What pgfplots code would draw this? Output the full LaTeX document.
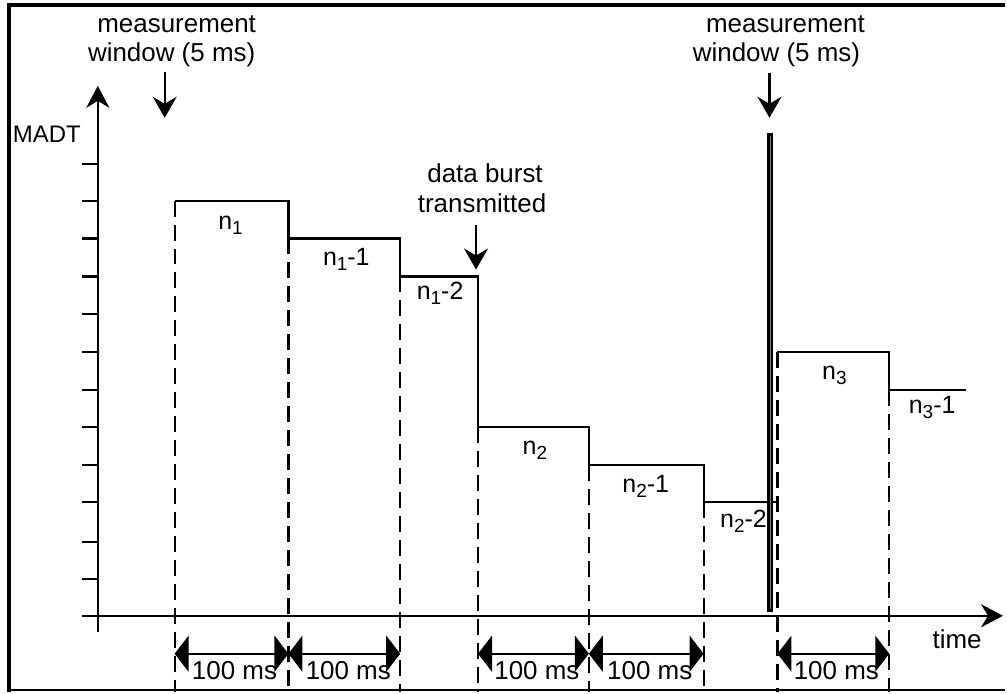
\documentclass[border=0pt]{standalone}
\usepackage{pgfplots}
\pgfplotsset{compat=1.18}
\usepackage{fontspec}
\setmainfont{Liberation Sans}
\usetikzlibrary{arrows.meta}

% step label: n with a lowered index, then a suffix
\newcommand{\lbl}[2]{n\raisebox{-5pt}{\fontsize{19}{19}\selectfont #1}#2}
\tikzset{txt/.style={anchor=base, font=\fontsize{26}{31}\selectfont},
  stp/.style={anchor=base, font=\fontsize{25}{30}\selectfont}}

\begin{document}
\begin{tikzpicture}
\begin{axis}[x=1pt, y=1pt, y dir=reverse,
  xmin=0, xmax=1007, ymin=0, ymax=693,
  hide axis, clip=false]

% keeps the page at the full size
\addplot[draw=none] coordinates {(0,0) (1007,693)};

% frame
\addplot[black, line width=4pt] coordinates {(9.5,693) (9.5,5) (1007,5)};
\addplot[black, line width=2pt] coordinates {(8,691) (1007,691)};

% axes
\addplot[black, line width=2.5pt, -{Stealth[length=22pt,width=23pt,inset=7pt]}]
  coordinates {(98,633) (98,86)};
\addplot[black, line width=2.5pt, -{Stealth[length=22pt,width=23pt,inset=7pt]}]
  coordinates {(82,617) (1005,617)};

% ticks on the MADT axis
\addplot[black, line width=2.2pt, unbounded coords=jump] coordinates {
  (82,164) (98,164) (nan,nan) (82,201) (98,201) (nan,nan)
  (82,239) (98,239) (nan,nan) (82,277) (98,277) (nan,nan)
  (82,315) (98,315) (nan,nan) (82,353) (98,353) (nan,nan)
  (82,391) (98,391) (nan,nan) (82,428) (98,428) (nan,nan)
  (82,466) (98,466) (nan,nan) (82,503) (98,503) (nan,nan)
  (82,543) (98,543) (nan,nan) (82,580) (98,580)};

% MADT steps
\addplot[black, line width=2.2pt] coordinates {
  (175,201) (289,201) (289,239) (401,239) (401,277) (479,277)
  (479,428) (590,428) (590,466) (705,466) (705,503) (779,503)};
\addplot[black, line width=2.2pt] coordinates {
  (779,353) (891,353) (891,391) (968,391)};

% dashed verticals
\addplot[black, line width=2.2pt, dash pattern=on 16pt off 8pt, unbounded coords=jump]
  coordinates {
  (175,201) (175,693) (nan,nan) (289,239) (289,693) (nan,nan)
  (401,277) (401,693) (nan,nan) (479,428) (479,693) (nan,nan)
  (590,466) (590,693) (nan,nan) (705,503) (705,693) (nan,nan)
  (779,353) (779,693) (nan,nan) (891,391) (891,693)};

% measurement window bar
\addplot[black, line width=6pt] coordinates {(772,133) (772,613)};
\addplot[gray, line width=1pt] coordinates {(772,136) (772,610)};

% pointing arrows
\addplot[black, line width=2.2pt, -{Stealth[length=21pt,width=24pt,inset=7pt]}]
  coordinates {(165,72) (165,118)};
\addplot[black, line width=2.2pt, -{Stealth[length=21pt,width=24pt,inset=7pt]}]
  coordinates {(771,73) (771,118)};
\addplot[black, line width=2.2pt, -{Stealth[length=21pt,width=24pt,inset=7pt]}]
  coordinates {(477,225) (477,270)};

% 100 ms spans
\pgfplotsset{span/.style={black, line width=2.2pt,
  {Triangle[length=14pt,width=36pt]}-{Triangle[length=14pt,width=36pt]}}}
\addplot[span] coordinates {(175,655) (289,655)};
\addplot[span] coordinates {(289,655) (401,655)};
\addplot[span] coordinates {(479,655) (590,655)};
\addplot[span] coordinates {(590,655) (705,655)};
\addplot[span] coordinates {(779,655) (891,655)};

% texts
\node[txt] at (axis cs:177,33) {measurement};
\node[txt] at (axis cs:172,62) {window (5 ms)};
\node[txt] at (axis cs:787,33) {measurement};
\node[txt] at (axis cs:778,62) {window (5 ms)};
\node[txt] at (axis cs:486,183) {data burst};
\node[txt] at (axis cs:483,213) {transmitted};
\node[txt, font=\fontsize{24}{29}\selectfont] at (axis cs:47,143) {MADT};
\node[txt] at (axis cs:959,650) {time};

\node[txt] at (axis cs:235,681) {100 ms};
\node[txt] at (axis cs:349,681) {100 ms};
\node[txt] at (axis cs:538,681) {100 ms};
\node[txt] at (axis cs:651,681) {100 ms};
\node[txt] at (axis cs:838,681) {100 ms};

\node[stp] at (axis cs:231,230) {\lbl{1}{}};
\node[stp] at (axis cs:347,266) {\lbl{1}{-1}};
\node[stp] at (axis cs:441,300) {\lbl{1}{-2}};
\node[stp] at (axis cs:536,455) {\lbl{2}{}};
\node[stp] at (axis cs:647,493) {\lbl{2}{-1}};
\node[stp] at (axis cs:745,529) {\lbl{2}{-2}};
\node[stp] at (axis cs:836,380) {\lbl{3}{}};
\node[stp] at (axis cs:934,414) {\lbl{3}{-1}};

\end{axis}
\end{tikzpicture}
\end{document}
